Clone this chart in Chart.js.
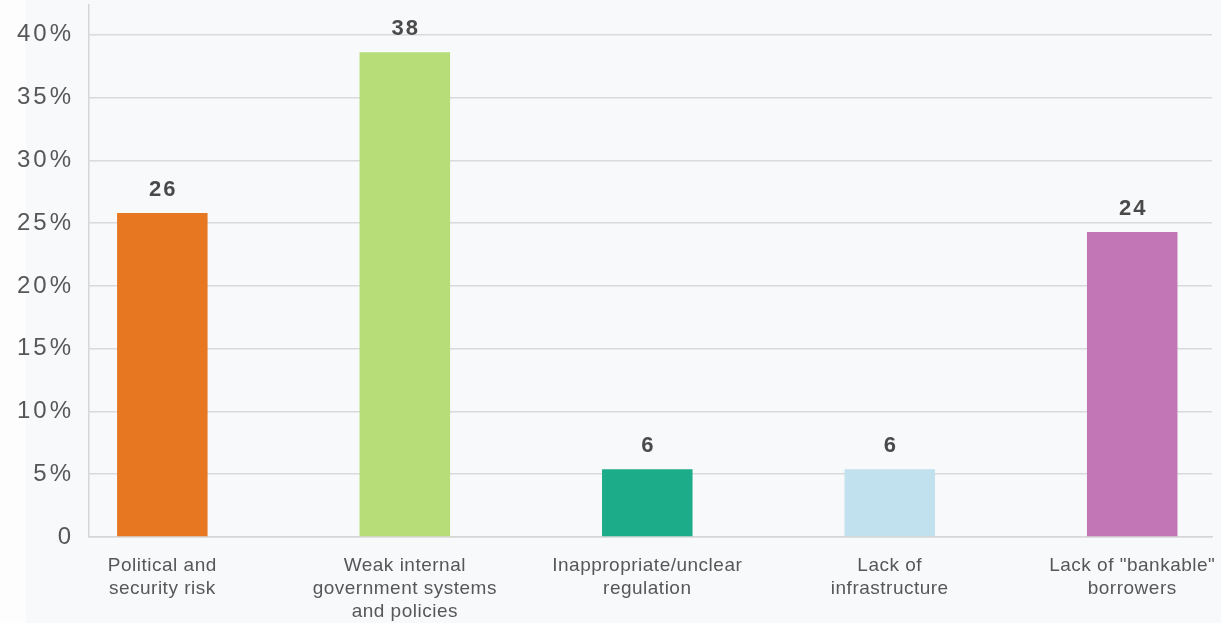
<!DOCTYPE html>
<html>
<head>
<meta charset="utf-8">
<script src="https://cdn.jsdelivr.net/npm/chart.js@4.4.1/dist/chart.umd.min.js"></script>
<style>
  html, body { margin: 0; padding: 0; background: #f8f9fb; }
  #wrap { position: relative; width: 1221px; height: 623px; }
</style>
</head>
<body>
<div id="wrap"><canvas id="c" width="1221" height="623"></canvas></div>
<script>
const categories = [
  ["Political and", "security risk"],
  ["Weak internal", "government systems", "and policies"],
  ["Inappropriate/unclear", "regulation"],
  ["Lack of", "infrastructure"],
  ["Lack of \"bankable\"", "borrowers"]
];
const values = [25.8, 38.6, 5.4, 5.4, 24.3];
const valueLabels = ["26", "38", "6", "6", "24"];
const barColors = ["#e87722", "#b6dd78", "#1dac89", "#c0e1ed", "#c276b5"];
const yTickValues = [0, 5, 10, 15, 20, 25, 30, 35, 40];

const bgPlugin = {
  id: 'bg',
  beforeDraw(chart) {
    const ctx = chart.ctx;
    ctx.save();
    ctx.fillStyle = '#f8f9fb';
    ctx.fillRect(0, 0, chart.width, chart.height);
    ctx.fillStyle = '#fdfdfe';
    ctx.fillRect(0, 0, 26, chart.height);
    ctx.restore();
    ['x', 'y'].forEach(id => {
      const s = chart.scales[id];
      if (s && !s._lsPatched) {
        const orig = s.drawLabels.bind(s);
        const ls = id === 'y' ? '3px' : '0.5px';
        s.drawLabels = function (area) {
          const c = this.ctx;
          c.save();
          c.letterSpacing = ls;
          orig(area);
          c.restore();
        };
        s._lsPatched = true;
      }
    });
  }
};

const valueLabelPlugin = {
  id: 'valueLabels',
  afterDatasetsDraw(chart) {
    const ctx = chart.ctx;
    const meta = chart.getDatasetMeta(0);
    ctx.save();
    ctx.font = 'bold 22px "Liberation Sans", Arial, sans-serif';
    ctx.letterSpacing = '2px';
    ctx.fillStyle = '#4a4a4a';
    ctx.textAlign = 'center';
    ctx.textBaseline = 'middle';
    meta.data.forEach((bar, i) => {
      ctx.fillText(valueLabels[i], bar.x + 1, bar.y - 23);
    });
    ctx.restore();
  }
};

function zeroPad(scale) {
  scale.paddingTop = 0;
  scale.paddingBottom = 0;
  scale.paddingLeft = 0;
  scale.paddingRight = 0;
}

new Chart(document.getElementById('c'), {
  type: 'bar',
  data: {
    datasets: [{
      data: values.map((v, i) => ({ x: i, y: v })),
      backgroundColor: barColors,
      borderWidth: 0,
      barPercentage: 0.3733,
      categoryPercentage: 1
    }]
  },
  options: {
    responsive: false,
    animation: false,
    devicePixelRatio: 1,
    layout: { padding: { left: 0, right: 9, top: 5, bottom: 0 } },
    plugins: {
      legend: { display: false },
      tooltip: { enabled: false }
    },
    scales: {
      x: {
        type: 'linear',
        offset: false,
        min: -0.3024,
        max: 4.329,
        grid: { display: false, drawTicks: false, offset: false },
        border: { display: true, color: '#d6d6d6', width: 1.5 },
        afterBuildTicks(axis) {
          axis.ticks = categories.map((_, i) => ({ value: i }));
        },
        afterFit(scale) { scale.height = 86; zeroPad(scale); },
        ticks: {
          autoSkip: false,
          maxRotation: 0,
          padding: 17,
          color: '#575757',
          font: { family: '"Liberation Sans", Arial, sans-serif', size: 19, lineHeight: 1.21 },
          callback: (v) => categories[v]
        }
      },
      y: {
        min: 0,
        max: 42.37,
        grid: { color: '#dadada', lineWidth: 1.5, drawTicks: false },
        border: { display: true, color: '#d6d6d6', width: 1.5 },
        afterBuildTicks(axis) {
          axis.ticks = yTickValues.map(v => ({ value: v }));
        },
        afterFit(scale) { scale.width = 89; zeroPad(scale); },
        ticks: {
          padding: 15,
          color: '#575757',
          font: { family: '"Liberation Sans", Arial, sans-serif', size: 24 },
          callback: (v) => v === 0 ? '0' : v + '%'
        }
      }
    }
  },
  plugins: [bgPlugin, valueLabelPlugin]
});
</script>
</body>
</html>
